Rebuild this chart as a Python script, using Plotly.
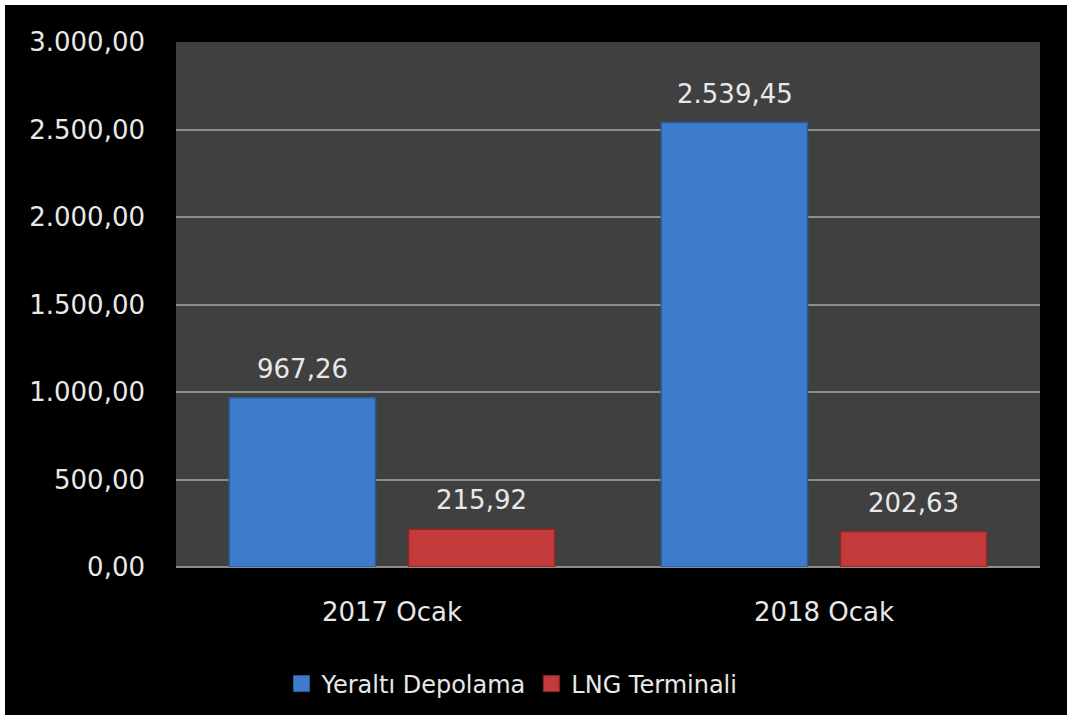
import plotly.graph_objects as go

categories = ["2017 Ocak", "2018 Ocak"]
series_names = ["Yeraltı Depolama", "LNG Terminali"]
yeralti = [967.26, 2539.45]
lng = [215.92, 202.63]
tick_vals = [0, 500, 1000, 1500, 2000, 2500, 3000]
tick_text = ["0,00", "500,00", "1.000,00", "1.500,00", "2.000,00", "2.500,00", "3.000,00"]

def tr_fmt(v):
    s = f"{v:,.2f}"
    return s.replace(",", "X").replace(".", ",").replace("X", ".")

colors = ["#3C7CCB", "#C33A3A"]
lines = ["#2A5C9E", "#8E2727"]
FONT = "DejaVu Sans"
TXT = "#E8E8E8"

# page offset: figure is placed at (5,5) in the window, like the white border in the reference
OFF = 5
FIG_W, FIG_H = 1067 - OFF, 715 - OFF
L, T = 176 - OFF, 42 - OFF
W, H = 864, 525

fig = go.Figure()
for name, vals, c, lc in zip(series_names, [yeralti, lng], colors, lines):
    fig.add_trace(go.Bar(
        x=categories, y=vals, name=name, showlegend=False,
        marker=dict(color=c, line=dict(color=lc, width=1.5)),
    ))
    # legend proxy with larger square icon
    fig.add_trace(go.Scatter(
        x=[None], y=[None], mode="markers", name=name,
        marker=dict(symbol="square", size=16, color=c, line=dict(color=lc, width=1)),
    ))

# data labels
offsets = [-89.5, 89.5]
for vals, dx in zip([yeralti, lng], offsets):
    for cat, v in zip(categories, vals):
        fig.add_annotation(
            x=cat, y=v, text=tr_fmt(v), showarrow=False,
            xshift=dx, yshift=29, yanchor="middle",
            font=dict(family=FONT, size=26, color=TXT),
        )

def px_x(p):
    return (p - OFF - L) / W
def px_y(p):
    return (T + H - (p - OFF)) / H

fig.update_layout(
    width=FIG_W, height=FIG_H,
    margin=dict(l=L, r=FIG_W - L - W, t=T, b=FIG_H - T - H, pad=0, autoexpand=False),
    paper_bgcolor="black",
    plot_bgcolor="#404040",
    barmode="group",
    bargap=0.17,
    bargroupgap=0.184,
    font=dict(family=FONT, size=26, color=TXT),
    legend=dict(
        orientation="h", x=px_x(512), xanchor="center",
        y=px_y(684), yanchor="middle",
        font=dict(family=FONT, size=24, color=TXT),
        bgcolor="rgba(0,0,0,0)",
        itemwidth=30,
    ),
    xaxis=dict(
        showgrid=False, zeroline=False, showline=False,
        ticks="", ticklabelstandoff=27,
        tickfont=dict(family=FONT, size=26, color=TXT),
    ),
    yaxis=dict(
        range=[0, 3000], tickvals=tick_vals, ticktext=tick_text,
        showgrid=True, gridcolor="#8E8E8E", gridwidth=2,
        zeroline=True, zerolinecolor="#8E8E8E", zerolinewidth=2,
        showline=False, ticks="", ticklabelstandoff=30,
        tickfont=dict(family=FONT, size=26, color=TXT),
        fixedrange=True,
    ),
)

fig.write_html(
    "out.html",
    post_script=(
        "document.body.style.margin='0';"
        "document.body.style.padding='%dpx 0 0 %dpx';"
        "document.body.style.background='white';"
        "document.body.style.overflow='hidden';" % (OFF, OFF)
    ),
)
